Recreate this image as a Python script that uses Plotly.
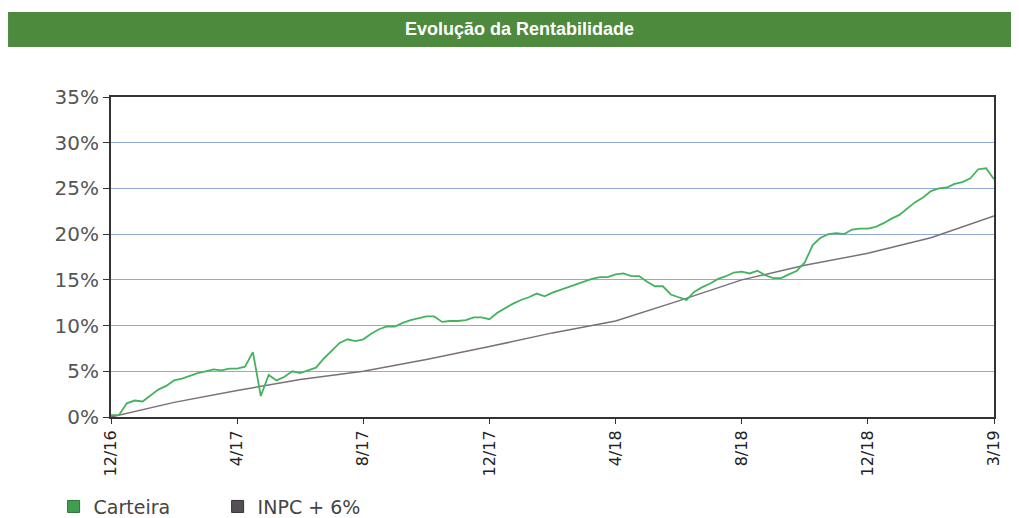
import plotly.graph_objects as go

# Semanas desde 12/16 (eixo x) e rentabilidade acumulada em %
semanas = list(range(113))
carteira = [
    0.2, 0.2, 1.5, 1.8, 1.7, 2.3, 3.0, 3.4, 4.0, 4.2,
    4.5, 4.8, 5.0, 5.2, 5.1, 5.3, 5.3, 5.5, 7.1, 2.3,
    4.6, 4.0, 4.4, 5.0, 4.8, 5.1, 5.4, 6.4, 7.2, 8.1,
    8.5, 8.3, 8.5, 9.1, 9.6, 9.9, 9.9, 10.3, 10.6, 10.8,
    11.0, 11.0, 10.4, 10.5, 10.5, 10.6, 10.9, 10.9, 10.7, 11.4,
    11.9, 12.4, 12.8, 13.1, 13.5, 13.2, 13.6, 13.9, 14.2, 14.5,
    14.8, 15.1, 15.3, 15.3, 15.6, 15.7, 15.4, 15.4, 14.8, 14.3,
    14.3, 13.4, 13.1, 12.8, 13.7, 14.2, 14.6, 15.1, 15.4, 15.8,
    15.9, 15.7, 16.0, 15.5, 15.2, 15.2, 15.6, 16.0, 16.9, 18.8,
    19.6, 20.0, 20.1, 20.0, 20.5, 20.6, 20.6, 20.8, 21.2, 21.7,
    22.1, 22.8, 23.5, 24.0, 24.7, 25.0, 25.1, 25.5, 25.7, 26.1,
    27.1, 27.2, 26.0,
]

inpc_semanas = [0, 8, 16, 24, 32, 40, 48, 56, 64, 72, 80, 88, 96, 104, 112]
inpc = [0.0, 1.6, 2.9, 4.1, 5.0, 6.3, 7.7, 9.2, 10.5, 12.7, 15.0, 16.6, 17.9, 19.6, 22.0]

tick_semanas = [0, 16, 32, 48, 64, 80, 96, 112]
tick_labels = ["12/16", "4/17", "8/17", "12/17", "4/18", "8/18", "12/18", "3/19"]
y_ticks = [0, 5, 10, 15, 20, 25, 30, 35]
y_labels = ["0%", "5%", "10%", "15%", "20%", "25%", "30%", "35%"]

verde = "#45b35e"
cinza = "#7b6f7a"

fig = go.Figure()
fig.add_trace(go.Scatter(x=inpc_semanas, y=inpc, mode="lines",
                         line=dict(color=cinza, width=1.5), showlegend=False))
fig.add_trace(go.Scatter(x=semanas, y=carteira, mode="lines",
                         line=dict(color=verde, width=1.8), showlegend=False))

# quadradinhos da legenda
fig.add_trace(go.Scatter(x=[None], y=[None], mode="markers", name="Carteira",
                         marker=dict(symbol="square", size=12, color="#3f9e4f",
                                     line=dict(color="#2f6f3a", width=1))))
fig.add_trace(go.Scatter(x=[None], y=[None], mode="markers", name="INPC + 6%",
                         marker=dict(symbol="square", size=12, color="#555055",
                                     line=dict(color="#333", width=1))))

# a página tem 8px de margem no body, por isso a figura é 8px menor
fig.update_layout(
    width=1011, height=510,
    margin=dict(l=103, r=25, t=89, b=101, autoexpand=False),
    paper_bgcolor="white", plot_bgcolor="white",
    font=dict(family="DejaVu Sans", color="#444"),
    legend=dict(orientation="h", x=-0.065, y=-0.28, xanchor="left", yanchor="middle",
                font=dict(size=19, color="#444"), itemwidth=30, entrywidth=119,
                bgcolor="rgba(0,0,0,0)"),
    shapes=[dict(type="rect", xref="paper", yref="paper",
                 x0=-0.1166, x1=1.03, y0=1.156, y1=1.266,
                 fillcolor="#4d8a3d", line=dict(width=0), layer="below")],
    annotations=[dict(text="<b>Evolução da Rentabilidade</b>", xref="paper", yref="paper",
                      x=0.463, y=1.211, xanchor="center", yanchor="middle", showarrow=False,
                      font=dict(family="Liberation Sans", size=18, color="white"))],
)

fig.update_xaxes(range=[0, 112], tickvals=tick_semanas, ticktext=tick_labels,
                 tickangle=-90, ticks="outside", ticklen=5, tickcolor="#333",
                 showline=True, linecolor="#333", linewidth=2, mirror=True,
                 showgrid=False, zeroline=False,
                 tickfont=dict(size=16, color="#222"))
fig.update_yaxes(range=[0, 35], tickvals=y_ticks, ticktext=y_labels,
                 ticks="outside", ticklen=6, tickcolor="#333",
                 showline=True, linecolor="#333", linewidth=2, mirror=True,
                 showgrid=True, gridcolor="#93a9d6", gridwidth=1, zeroline=False,
                 tickfont=dict(size=20, color="#555"))

fig.write_html("out.html")
